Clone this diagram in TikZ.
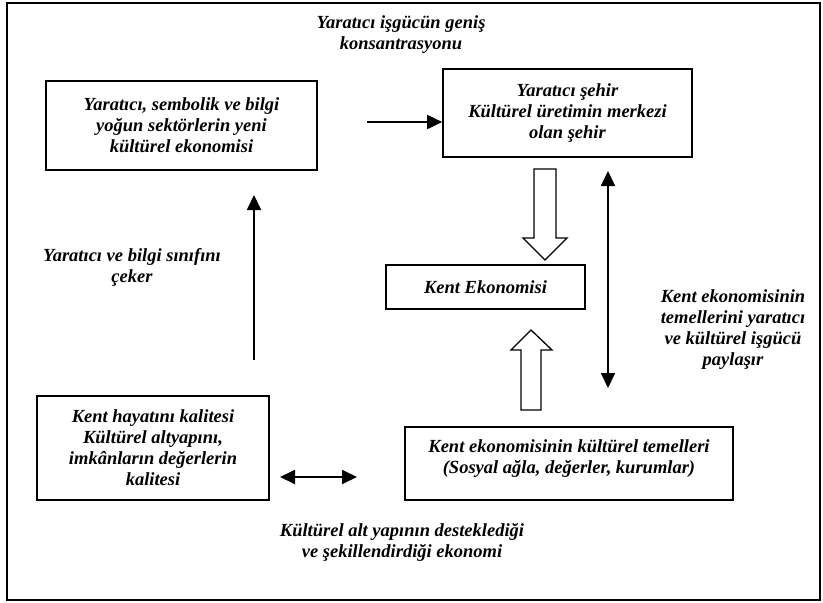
\documentclass[tikz,border=0pt]{standalone}
\usepackage{fontspec}
\setmainfont{Liberation Serif}
\usetikzlibrary{arrows.meta}
\begin{document}
\begin{tikzpicture}[x=1pt,y=-1pt,
  every node/.style={font=\fontsize{18.5}{21}\selectfont\bfseries\itshape, align=center, inner sep=0pt},
  box/.style={draw, line width=1.6pt},
  arr/.style={line width=1.8pt, -{Triangle[length=15pt,width=14pt]}},
  darr/.style={line width=1.8pt, {Triangle[length=15pt,width=14pt]}-{Triangle[length=15pt,width=14pt]}},
  hollow/.style={draw, line width=1.3pt, fill=white, line join=miter}
]
\useasboundingbox (0,0) rectangle (823,603);
\draw[line width=2pt] (7,3) rectangle (820,600);

% boxes
\node[box, minimum width=271pt, minimum height=89pt] (A) at (181.5,125.5)
  {Yaratıcı, sembolik ve bilgi\\yoğun sektörlerin yeni\\kültürel ekonomisi};
\node[box, minimum width=249pt, minimum height=88pt] (B) at (567.5,113)
  {Yaratıcı şehir\\Kültürel üretimin merkezi\\olan şehir};
\node[box, minimum width=199pt, minimum height=44pt] (K) at (485.5,287)
  {Kent Ekonomisi};
\node[box, minimum width=232pt, minimum height=104pt] (C) at (153,448)
  {Kent hayatını kalitesi\\Kültürel altyapını,\\imkânların değerlerin\\kalitesi};
\node[box, minimum width=328pt, minimum height=73pt] (D) at (569,463.5) {};
\node (Dt) at (569,459) {Kent ekonomisinin kültürel temelleri\\(Sosyal ağla, değerler, kurumlar)};

% free labels
\node (L1) at (401,35) {Yaratıcı işgücün geniş\\konsantrasyonu};
\node (L2) at (132,267) {Yaratıcı ve bilgi sınıfını\\çeker};
\node (L3) at (733,330) {Kent ekonomisinin\\temellerini yaratıcı\\ve kültürel işgücü\\paylaşır};
\node (L4) at (402,542.5) {Kültürel alt yapının desteklediği\\ve şekillendirdiği ekonomi};

% connectors
\coordinate (ab) at (367,122);
\draw[arr] (ab) -- (ab -| B.west);

\coordinate (up0) at (254,360);
\coordinate (up1) at (254,195);
\draw[arr] (up0) -- (up1);

\coordinate (v0) at (608,171);
\coordinate (v1) at (608,388);
\draw[darr] (v0) -- (v1);

\coordinate (h0) at (280,477);
\coordinate (h1) at (357,477);
\draw[darr] (h0) -- (h1);

% hollow block arrows
\draw[hollow] (534,169) -- (556,169) -- (556,238) -- (567,238) -- (545,260)
  -- (523,238) -- (534,238) -- cycle;
\draw[hollow] (521,410) -- (541,410) -- (541,350) -- (552,350) -- (531,330)
  -- (511,350) -- (521,350) -- cycle;
\end{tikzpicture}
\end{document}
